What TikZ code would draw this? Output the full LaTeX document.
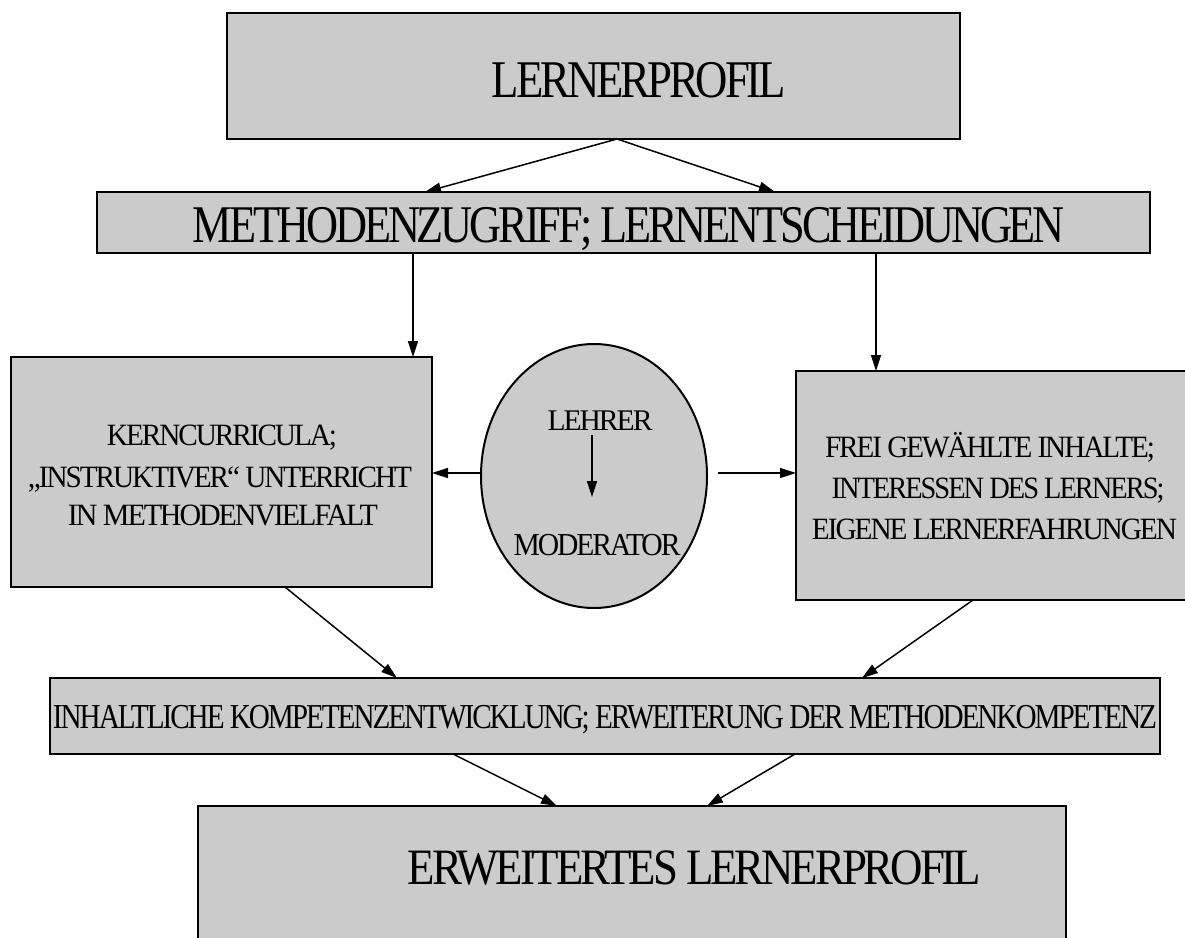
\documentclass[tikz,border=0pt]{standalone}
\usepackage{fontspec}
\setmainfont{Liberation Serif}
\newfontfamily\tightfont[LetterSpace=-7]{Liberation Serif}
\usetikzlibrary{arrows.meta,shapes.geometric}
\definecolor{boxgray}{RGB}{203,203,203}
\newcommand{\fw}[3]{\resizebox{#1pt}{\height}{\fontsize{#2pt}{#2pt}\tightfont #3}}
\begin{document}
\begin{tikzpicture}[x=0.5pt,y=-0.5pt,
  box/.style={draw=black,line width=1pt,fill=boxgray,inner sep=0pt,outer sep=0pt},
  lbl/.style={anchor=base,inner sep=0pt,outer sep=0pt},
  arr/.style={draw=black,line width=0.75pt,-{Triangle[length=8pt,width=5pt]}}]
\clip (0,0) rectangle (1185,938);
\fill[white] (0,0) rectangle (1185,938);
% boxes
\node[box,minimum width=366.5pt,minimum height=63pt] (B1) at (593.5,76) {};
\node[box,minimum width=526.5pt,minimum height=30.5pt] (B2) at (623.5,222.5) {};
\node[box,minimum width=210.5pt,minimum height=115pt] (BL) at (221.5,472) {};
\node[box,ellipse,minimum width=113pt,minimum height=132pt] (E) at (594,476) {};
\node[box,minimum width=207pt,minimum height=114.5pt] (BR) at (1003,485.5) {};
\node[box,minimum width=555pt,minimum height=38pt] (B3) at (605,716) {};
\node[box,minimum width=434pt,minimum height=77pt] (B4) at (632,883) {};
% texts
\node[lbl] (t1) at (639,97) {\fw{147}{26.5}{LERNERPROFIL}};
\node[lbl] (t2) at (629,242) {\fw{436}{26.5}{METHODENZUGRIFF; LERNENTSCHEIDUNGEN}};
\node[lbl] (tl1) at (222,445) {\fw{115}{15.5}{KERNCURRICULA;}};
\node[lbl] (tl2) at (220,487) {\fw{192}{15.5}{„INSTRUKTIVER“ UNTERRICHT}};
\node[lbl] (tl3) at (223,525) {\fw{155}{15.5}{IN METHODENVIELFALT}};
\node[lbl] (lehrer) at (600,430) {\fw{52.5}{15}{LEHRER}};
\node[lbl] (moderator) at (597,555) {\fw{83.5}{16}{MODERATOR}};
\node[lbl] (tr1) at (990,457) {\fw{165}{15.5}{FREI GEWÄHLTE INHALTE;}};
\node[lbl] (tr2) at (998,498) {\fw{166.5}{15.5}{INTERESSEN DES LERNERS;}};
\node[lbl] (tr3) at (994.5,539) {\fw{182.5}{15.5}{EIGENE LERNERFAHRUNGEN}};
\node[lbl] (t3) at (605,728) {\fw{552}{17.5}{INHALTLICHE KOMPETENZENTWICKLUNG; ERWEITERUNG DER METHODENKOMPETENZ}};
\node[lbl] (t4) at (694.5,884) {\fw{286.5}{25.5}{ERWEITERTES LERNERPROFIL}};
% connector end points
\coordinate (o1) at (617,139);
\coordinate (m1) at (425,192);
\coordinate (m2) at (775,192);
\coordinate (d1) at (413,253);
\coordinate (d1e) at (413,357);
\coordinate (d2) at (876,253);
\coordinate (d2e) at (876,371);
\coordinate (el) at (481,473);
\coordinate (ble) at (432,473);
\coordinate (er) at (718,473);
\coordinate (brw) at (796,473);
\coordinate (ia) at (592,435);
\coordinate (ib) at (592,497);
\coordinate (bls) at (285,587);
\coordinate (b3a) at (397,678);
\coordinate (brs) at (973,600);
\coordinate (b3b) at (862,678);
\coordinate (b3c) at (453,754);
\coordinate (b4a) at (557,806);
\coordinate (b3d) at (795,754);
\coordinate (b4b) at (707,806);
% connectors
\draw[arr] (o1) -- (m1);
\draw[arr] (o1) -- (m2);
\draw[arr] (d1) -- (d1e);
\draw[arr] (d2) -- (d2e);
\draw[arr] (el) -- (ble);
\draw[arr] (er) -- (brw);
\draw[arr] (ia) -- (ib);
\draw[arr] (bls) -- (b3a);
\draw[arr] (brs) -- (b3b);
\draw[arr] (b3c) -- (b4a);
\draw[arr] (b3d) -- (b4b);
\end{tikzpicture}
\end{document}
